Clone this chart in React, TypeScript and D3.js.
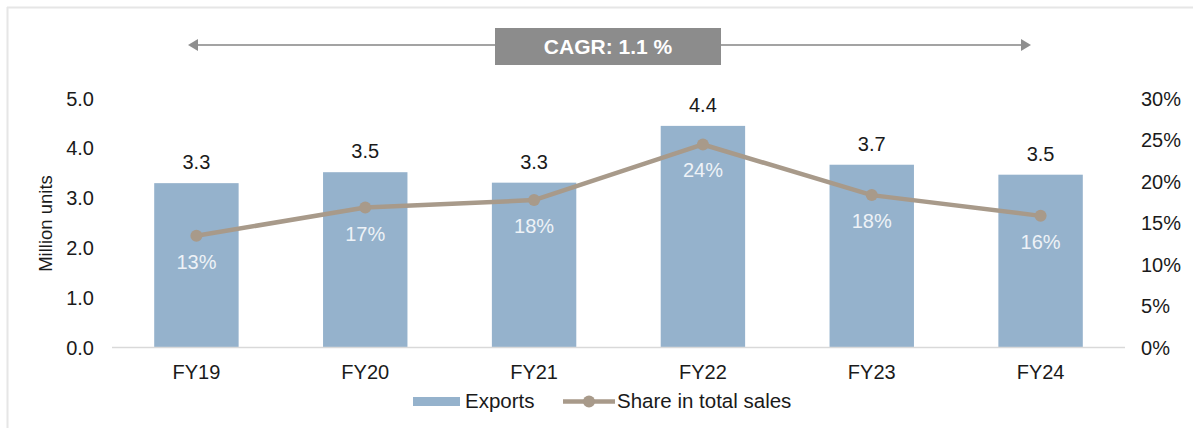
import React from "react";
import * as d3 from "d3";

const categories = ["FY19", "FY20", "FY21", "FY22", "FY23", "FY24"];
const exportsValues = [3.29, 3.51, 3.3, 4.44, 3.66, 3.46];
const shareValues = [13.4, 16.8, 17.7, 24.4, 18.3, 15.8];
const leftTicks = [0, 1, 2, 3, 4, 5];
const rightTicks = [0, 5, 10, 15, 20, 25, 30];
const cagrLabel = "CAGR: 1.1 %";
const yAxisTitle = "Million units";
const legendLabels = ["Exports", "Share in total sales"];

const W = 1193;
const H = 428;
const plotLeft = 112;
const plotRight = 1125;
const plotTop = 98;
const plotBottom = 347;

const barColor = "#95b2cc";
const lineColor = "#a89a8a";
const textColor = "#1a1a1a";
const font = "'Liberation Sans', Arial, sans-serif";

export default function App() {
  const x = d3.scaleBand<string>().domain(categories).range([plotLeft, plotRight]).paddingInner(0.5).paddingOuter(0.25);
  const y = d3.scaleLinear().domain([0, 5]).range([plotBottom, plotTop]);
  const y2 = d3.scaleLinear().domain([0, 30]).range([plotBottom, plotTop]);
  const cx = (c: string) => (x(c) as number) + x.bandwidth() / 2;

  const linePath = d3
    .line<number>()
    .x((_, i) => cx(categories[i]))
    .y((d) => y2(d))(shareValues) as string;

  const arrowY = 45;
  const arrowL = 188;
  const arrowR = 1031;

  return (
    <svg
      width={W}
      height={H}
      style={{ position: "absolute", left: 0, top: 0, background: "#fff" }}
      fontFamily={font}
    >
      {/* frame */}
      <line x1={7} y1={7.5} x2={W} y2={7.5} stroke="#e6e6e6" strokeWidth={2} />
      <line x1={7.5} y1={7} x2={7.5} y2={H} stroke="#e6e6e6" strokeWidth={2} />

      {/* CAGR arrow */}
      <line x1={arrowL + 8} y1={arrowY} x2={arrowR - 8} y2={arrowY} stroke="#a3a3a3" strokeWidth={2} />
      <path d={`M${arrowL},${arrowY} L${arrowL + 10},${arrowY - 6} L${arrowL + 10},${arrowY + 6} Z`} fill="#8f8f8f" />
      <path d={`M${arrowR},${arrowY} L${arrowR - 10},${arrowY - 6} L${arrowR - 10},${arrowY + 6} Z`} fill="#8f8f8f" />
      <rect x={495} y={28} width={226} height={37} fill="#8c8c8c" />
      <text x={608} y={54} textAnchor="middle" fill="#fff" fontWeight="bold" fontSize={21}>
        {cagrLabel}
      </text>

      {/* left axis ticks */}
      {leftTicks.map((t) => (
        <text key={t} x={94} y={y(t) + 7.5} textAnchor="end" fontSize={20} fill={textColor}>
          {t.toFixed(1)}
        </text>
      ))}
      <text
        transform={`translate(52,${(plotTop + plotBottom) / 2 + 1}) rotate(-90)`}
        textAnchor="middle"
        fontSize={18.5}
        fill={textColor}
      >
        {yAxisTitle}
      </text>

      {/* right axis ticks */}
      {rightTicks.map((t) => (
        <text key={t} x={1141} y={y2(t) + 7.5} textAnchor="start" fontSize={20} fill={textColor}>
          {t}%
        </text>
      ))}

      {/* bars */}
      {exportsValues.map((v, i) => (
        <rect
          key={categories[i]}
          x={x(categories[i])}
          y={y(v)}
          width={x.bandwidth()}
          height={plotBottom - y(v)}
          fill={barColor}
        />
      ))}

      {/* baseline */}
      <line x1={plotLeft} y1={plotBottom + 0.5} x2={plotRight} y2={plotBottom + 0.5} stroke="#d9d9d9" strokeWidth={1.5} />

      {/* bar value labels */}
      {exportsValues.map((v, i) => (
        <text key={categories[i]} x={cx(categories[i])} y={y(v) - 14} textAnchor="middle" fontSize={20} fill={textColor}>
          {v.toFixed(1)}
        </text>
      ))}

      {/* line */}
      <path d={linePath} fill="none" stroke={lineColor} strokeWidth={4.5} strokeLinejoin="round" />
      {shareValues.map((v, i) => (
        <circle key={categories[i]} cx={cx(categories[i])} cy={y2(v)} r={6} fill={lineColor} />
      ))}
      {shareValues.map((v, i) => (
        <text key={categories[i]} x={cx(categories[i])} y={y2(v) + 33} textAnchor="middle" fontSize={20} fill="#eef2f7">
          {Math.round(v)}%
        </text>
      ))}

      {/* x labels */}
      {categories.map((c) => (
        <text key={c} x={cx(c)} y={379} textAnchor="middle" fontSize={20} fill={textColor}>
          {c}
        </text>
      ))}

      {/* legend */}
      <rect x={413} y={397} width={47} height={9} fill={barColor} />
      <text x={465} y={408} fontSize={20.5} fill={textColor}>
        {legendLabels[0]}
      </text>
      <line x1={563} y1={401.5} x2={615} y2={401.5} stroke={lineColor} strokeWidth={4.5} />
      <circle cx={589} cy={401.5} r={6} fill={lineColor} />
      <text x={617} y={408} fontSize={20.5} fill={textColor}>
        {legendLabels[1]}
      </text>
    </svg>
  );
}
